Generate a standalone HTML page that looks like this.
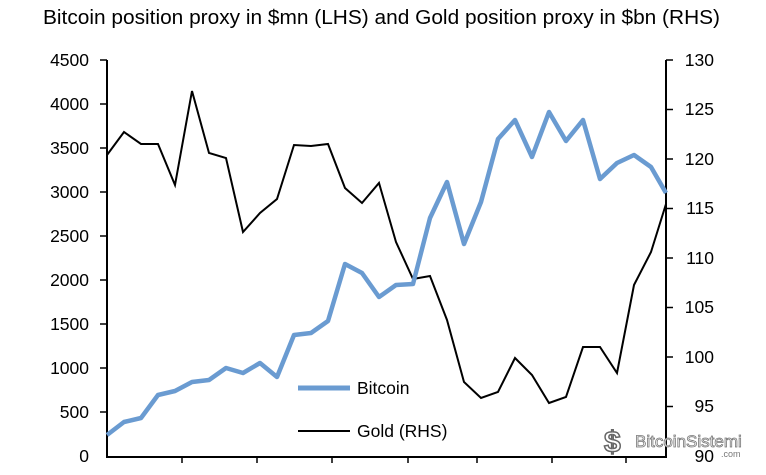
<!DOCTYPE html>
<html><head><style>
body{margin:0;background:#fff;width:766px;height:470px;overflow:hidden;font-family:"Liberation Sans",Arial,sans-serif}
</style></head><body>
<svg width="766" height="470" xmlns="http://www.w3.org/2000/svg" font-family="Liberation Sans, Arial, sans-serif">
<text x="43" y="24" font-size="20" textLength="677" lengthAdjust="spacingAndGlyphs" fill="#000">Bitcoin position proxy in $mn (LHS) and Gold position proxy in $bn (RHS)</text>
<g stroke="#000" stroke-width="2" fill="none">
<line x1="107" y1="60" x2="107" y2="457"/>
<line x1="666" y1="60" x2="666" y2="457"/>
<line x1="106" y1="457" x2="667" y2="457"/>
</g>
<g stroke="#000" stroke-width="1.5">
<line x1="100" y1="60" x2="107" y2="60"/><line x1="100" y1="104" x2="107" y2="104"/><line x1="100" y1="148" x2="107" y2="148"/><line x1="100" y1="192" x2="107" y2="192"/><line x1="100" y1="236" x2="107" y2="236"/><line x1="100" y1="280" x2="107" y2="280"/><line x1="100" y1="324" x2="107" y2="324"/><line x1="100" y1="368" x2="107" y2="368"/><line x1="100" y1="412" x2="107" y2="412"/>
<line x1="666" y1="60" x2="673" y2="60"/><line x1="666" y1="109.5" x2="673" y2="109.5"/><line x1="666" y1="159" x2="673" y2="159"/><line x1="666" y1="208.5" x2="673" y2="208.5"/><line x1="666" y1="258" x2="673" y2="258"/><line x1="666" y1="307.5" x2="673" y2="307.5"/><line x1="666" y1="357" x2="673" y2="357"/><line x1="666" y1="406.5" x2="673" y2="406.5"/>
<line x1="182" y1="457" x2="182" y2="463"/><line x1="257" y1="457" x2="257" y2="463"/><line x1="332" y1="457" x2="332" y2="463"/><line x1="408" y1="457" x2="408" y2="463"/><line x1="477" y1="457" x2="477" y2="463"/><line x1="552" y1="457" x2="552" y2="463"/><line x1="626" y1="457" x2="626" y2="463"/>
</g>
<g font-size="17.5" fill="#000" text-anchor="end">
<text x="89" y="66">4500</text><text x="89" y="110">4000</text><text x="89" y="154">3500</text><text x="89" y="198">3000</text><text x="89" y="242">2500</text><text x="89" y="286">2000</text><text x="89" y="330">1500</text><text x="89" y="374">1000</text><text x="89" y="418">500</text><text x="89" y="462">0</text>
</g>
<g font-size="17.5" fill="#000" text-anchor="end">
<text x="714" y="66">130</text><text x="714" y="115">125</text><text x="714" y="165">120</text><text x="714" y="214">115</text><text x="714" y="264">110</text><text x="714" y="313">105</text><text x="714" y="363">100</text><text x="714" y="412">95</text><text x="714" y="462">90</text>
</g>
<polyline fill="none" stroke="#000" stroke-width="2" points="107,155 124,132 141,144 158,144 175,185 192,91 209,153 226,158 243,232 260,213 277,199 294,145 311,146 328,144 345,188 362,203 379,183 396,242 413,279 430,276 447,320 464,382 481,398 498,392 515,358 532,375 549,403 566,397 583,347 600,347 617,373 634,285 651,252 666,204"/>
<polyline fill="none" stroke="#6a9bd1" stroke-width="4.5" stroke-linejoin="round" points="107,435 124,422 141,418 158,395 175,391 192,382 209,380 226,368 243,373 260,363 277,377 294,335 311,333 328,321 345,264 362,273 379,297 396,285 413,284 430,218 447,182 464,244 481,202 498,139 515,120 532,157 549,112 566,141 583,120 600,179 617,163 634,155 651,167 666,193"/>
<line x1="298" y1="388" x2="350" y2="388" stroke="#6a9bd1" stroke-width="5"/>
<text x="357" y="394" font-size="17.5">Bitcoin</text>
<line x1="298" y1="431" x2="350" y2="431" stroke="#000" stroke-width="2"/>
<text x="357" y="437" font-size="17.5">Gold (RHS)</text>
<text x="604" y="452" font-size="30" fill="#fff" stroke="#666" stroke-width="1.5" font-weight="bold">$</text>
<text x="635" y="447" font-size="17" fill="#fff" stroke="#777" stroke-width="0.8">BitcoinSistemi</text>
<text x="721" y="457" font-size="9" fill="#777">.com</text>
</svg>
</body></html>
